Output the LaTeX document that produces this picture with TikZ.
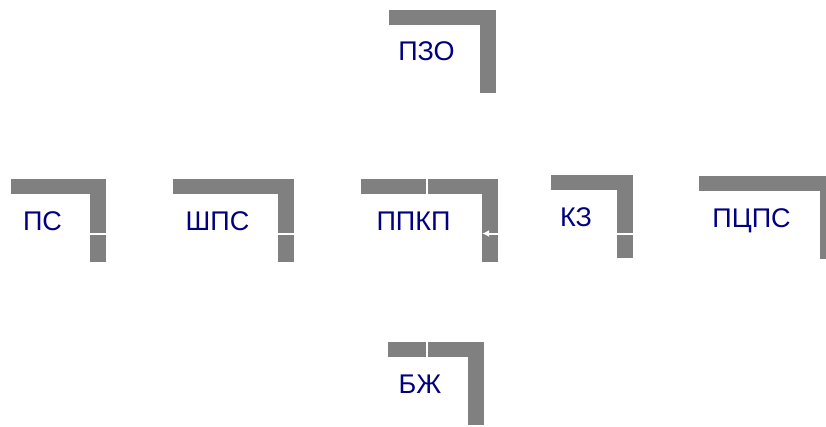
\documentclass[tikz,border=0pt]{standalone}
\usepackage{fontspec}
\setmainfont{Liberation Sans}
\usetikzlibrary{arrows.meta,shadows}

\definecolor{shadowgrey}{RGB}{128,128,128}
\definecolor{labelblue}{RGB}{0,0,128}

\begin{document}
\begin{tikzpicture}[x=1pt,y=-1pt,
    block/.style={fill=white, inner sep=0pt, text height=36pt, text depth=47pt,
        text=labelblue, font=\fontsize{27}{30}\selectfont,
        drop shadow={fill=shadowgrey, opacity=1, shadow xshift=16pt, shadow yshift=15pt}},
    link/.style={white, line width=2pt}]

    % Page frame
    \useasboundingbox (0,0) rectangle (826,426);

    % Blocks
    \node[block, minimum width=107pt] (pzo)  at (426.5,66)   {ПЗО};
    \node[block, minimum width=95pt]  (ps)   at (42.5,235.5) {ПС};
    \node[block, minimum width=121pt] (shps) at (217.5,235.5) {ШПС};
    \node[block, minimum width=137pt] (ppkp) at (413.5,235.5) {ППКП};
    \node[block, minimum width=82pt]  (kz)   at (576,231.5)  {КЗ};
    \node[block, minimum width=137pt] (pcps) at (751.5,232.5) {ПЦПС};
    \node[block, minimum width=96pt]  (bzh)  at (420,398.5)  {БЖ};

    % Line levels
    \coordinate (bus)   at (0,233.5);
    \coordinate (spine) at (427,0);

    % Horizontal links
    \foreach \a/\b in {ps/shps, shps/ppkp, kz/pcps} {
        \draw[link] (\a.east |- bus) -- (\b.west |- bus);
    }
    \draw[link,-{Latex[length=7pt,width=7pt]}] (kz.west |- bus) -- (ppkp.east |- bus);

    % Vertical links
    \draw[link] (ppkp.north -| spine) -- (pzo.south -| spine);
    \draw[link] (bzh.north -| spine) -- (ppkp.south -| spine);

\end{tikzpicture}
\end{document}
